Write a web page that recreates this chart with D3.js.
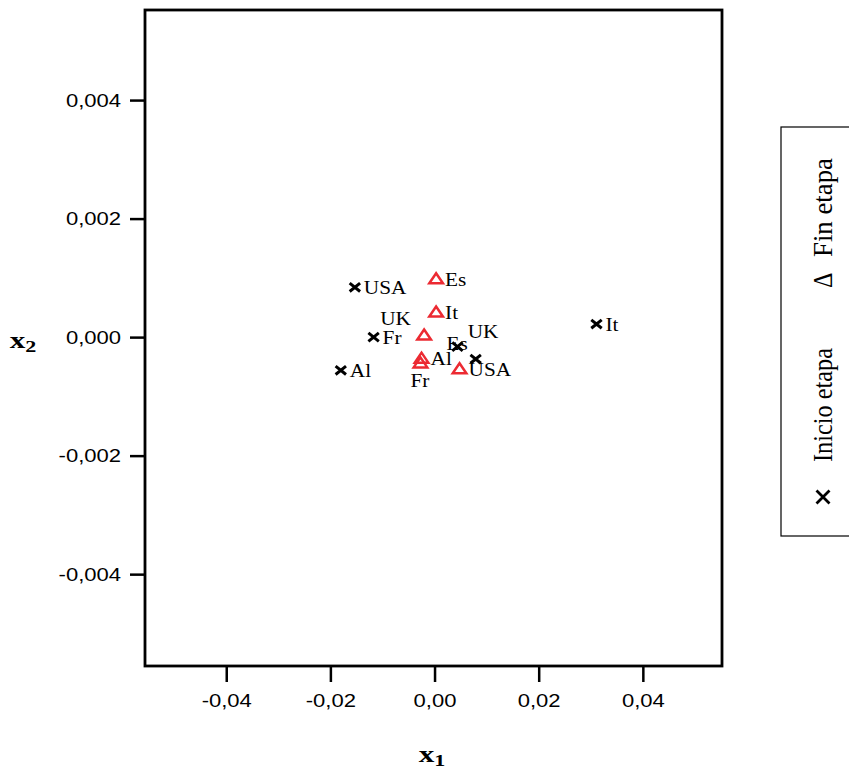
<!DOCTYPE html>
<html>
<head>
<meta charset="utf-8">
<script src="https://cdn.jsdelivr.net/npm/d3@7"></script>
<style>
  html, body { margin: 0; padding: 0; background: #fff; }
  svg { display: block; }
</style>
</head>
<body>
<svg id="chart" width="849" height="771"></svg>
<script>
// Countries and their coordinates on the two factors (x1, x2)
const countries = ["USA", "Fr", "Al", "It", "Es", "UK"];
const inicioX1 = [-0.0153, -0.0117, -0.0180, 0.0311, 0.0044, 0.0079];
const inicioX2 = [0.00084, 0.00000, -0.00056, 0.00022, -0.00016, -0.00037];
const finX1 = [0.0048, -0.0027, -0.0025, 0.0003, 0.0003, -0.0020];
const finX2 = [-0.00054, -0.00044, -0.00036, 0.00042, 0.00098, 0.00003];

const xTicks = [-0.04, -0.02, 0.00, 0.02, 0.04];
const yTicks = [-0.004, -0.002, 0.000, 0.002, 0.004];
const seriesNames = ["Inicio etapa", "Fin etapa"];

// Label placement: default offset to the right of each marker, with nudges in the crowded centre
const labelDefault = [9, 7];
const labelNudge = {
  "inicio-Es": [-11, 3],
  "inicio-UK": [-8, -21],
  "fin-UK": [-44, -10],
  "fin-Fr": [-10, 24]
};

const svg = d3.select("#chart");
const frame = { left: 145, right: 722, top: 10, bottom: 666 };

const x = d3.scaleLinear().domain([-0.0556, 0.0552]).range([frame.left, frame.right]);
const y = d3.scaleLinear().domain([-0.00555, 0.00552]).range([frame.bottom, frame.top]);

const loc = d3.formatLocale({ decimal: ",", thousands: ".", grouping: [3], currency: ["", ""], minus: "-" });
const fx = loc.format(".2f");
const fy = loc.format(".3f");

const tickFont = "'Liberation Sans', Arial, sans-serif";
const serif = "'Liberation Serif', 'Times New Roman', serif";
const sx = 1.16; // horizontal widening of the text

// X axis
const gx = svg.append("g")
  .attr("transform", `translate(0,${frame.bottom})`)
  .call(d3.axisBottom(x).tickValues(xTicks).tickFormat(fx).tickSize(16).tickSizeOuter(0).tickPadding(12));
gx.select(".domain").remove();
gx.selectAll(".tick line").attr("stroke", "#000").attr("stroke-width", 2.5);
gx.selectAll(".tick text")
  .attr("font-family", tickFont).attr("font-size", 19).attr("fill", "#000")
  .attr("transform", `scale(${sx},1)`);

// Y axis
const yPad = 9, ySize = 15;
const gy = svg.append("g")
  .attr("transform", `translate(${frame.left},0)`)
  .call(d3.axisLeft(y).tickValues(yTicks).tickFormat(fy).tickSize(ySize).tickSizeOuter(0).tickPadding(yPad));
gy.select(".domain").remove();
gy.selectAll(".tick line").attr("stroke", "#000").attr("stroke-width", 2.5);
gy.selectAll(".tick text")
  .attr("font-family", tickFont).attr("font-size", 19).attr("fill", "#000")
  .attr("x", -(ySize + yPad) / sx)
  .attr("transform", `scale(${sx},1)`);

// Plot frame
svg.append("rect")
  .attr("x", frame.left).attr("y", frame.top)
  .attr("width", frame.right - frame.left).attr("height", frame.bottom - frame.top)
  .attr("fill", "none").attr("stroke", "#000").attr("stroke-width", 2.8);

// Axis titles
function axisTitle(cx, cy, sub) {
  const t = svg.append("text")
    .attr("transform", `translate(${cx},${cy}) scale(1.3,1)`)
    .attr("text-anchor", "middle")
    .attr("font-family", serif).attr("font-weight", "bold").attr("font-size", 24).attr("fill", "#000");
  t.append("tspan").text("x");
  t.append("tspan").attr("font-size", 17).attr("dy", 4).text(sub);
}
axisTitle(432, 762, "1");
axisTitle(23, 348, "2");

const red = "#ec2a32";
const crossPath = "M-5.2,-4.2 L5.2,4.2 M-5.2,4.2 L5.2,-4.2";
const triPath = "M0,-5.8 L6.8,4.2 L-6.8,4.2 Z";

const inicio = countries.map((c, i) => ({ name: c, key: "inicio-" + c, x1: inicioX1[i], x2: inicioX2[i] }));
const fin = countries.map((c, i) => ({ name: c, key: "fin-" + c, x1: finX1[i], x2: finX2[i] }));

const marks = svg.append("g");
marks.selectAll("path.fin").data(fin).join("path")
  .attr("class", "fin")
  .attr("d", triPath)
  .attr("transform", d => `translate(${x(d.x1)},${y(d.x2)})`)
  .attr("fill", "none").attr("stroke", red).attr("stroke-width", 2.5);

marks.selectAll("path.inicio").data(inicio).join("path")
  .attr("class", "inicio")
  .attr("d", crossPath)
  .attr("transform", d => `translate(${x(d.x1)},${y(d.x2)})`)
  .attr("fill", "none").attr("stroke", "#000").attr("stroke-width", 3);

// Point labels
const labels = svg.append("g");
labels.selectAll("text").data(inicio.concat(fin)).join("text")
  .attr("transform", d => {
    const o = labelNudge[d.key] || labelDefault;
    return `translate(${x(d.x1) + o[0]},${y(d.x2) + o[1]}) scale(1.12,1)`;
  })
  .attr("font-family", serif).attr("font-size", 19).attr("fill", "#000")
  .text(d => d.name);

// Legend (vertical, reading upwards)
svg.append("rect")
  .attr("x", 781).attr("y", 127).attr("width", 100).attr("height", 409)
  .attr("fill", "none").attr("stroke", "#000").attr("stroke-width", 1.2);

const legendCx = 823;
const lg = svg.append("g");
// cross symbol for the first series
lg.append("path")
  .attr("d", "M-6.5,-6.5 L6.5,6.5 M-6.5,6.5 L6.5,-6.5")
  .attr("transform", `translate(${legendCx},497)`)
  .attr("fill", "none").attr("stroke", "#000").attr("stroke-width", 2.8);
const legendText = (yPos, txt, len) => {
  const t = lg.append("text")
    .attr("transform", `translate(${legendCx + 9},${yPos}) rotate(-90) scale(1,1.15)`)
    .attr("font-family", serif).attr("font-size", 24).attr("fill", "#000")
    .text(txt);
  if (len) t.attr("textLength", len).attr("lengthAdjust", "spacingAndGlyphs");
};
legendText(462, seriesNames[0], 114);
legendText(288, "\u0394");
legendText(257, seriesNames[1], 99);
</script>
</body>
</html>
